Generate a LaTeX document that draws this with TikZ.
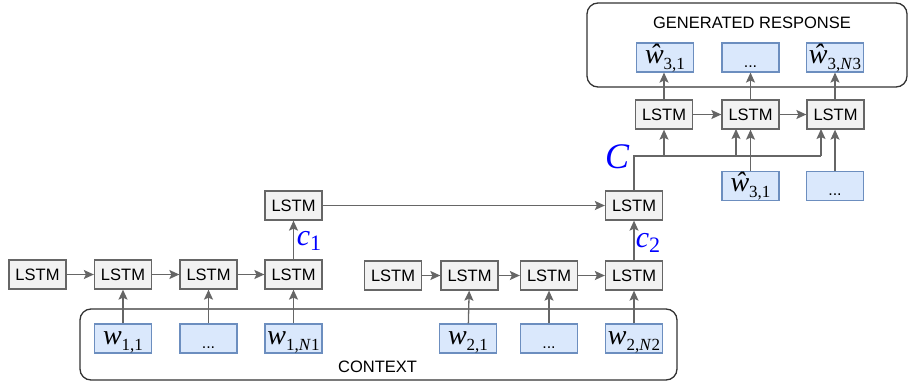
\documentclass[tikz,border=0pt]{standalone}
\usepackage{fontspec}
\setmainfont{Liberation Sans}
\newfontfamily\tms{Liberation Serif}
\usetikzlibrary{arrows.meta}
\definecolor{lgray}{HTML}{F2F2F2}
\definecolor{bgray}{HTML}{666666}
\definecolor{wfill}{HTML}{DAE8FC}
\definecolor{wdraw}{HTML}{6C8EBF}
\definecolor{cblue}{HTML}{0000FF}
\newcommand{\wl}[2]{{\tms\fontsize{28}{30}\selectfont\itshape #1\upshape\raisebox{-6pt}{\fontsize{17}{18}\selectfont #2}}}
\newcommand{\cl}[2]{{\tms\fontsize{30}{32}\selectfont\itshape #1\upshape\raisebox{-5pt}{\fontsize{22}{24}\selectfont #2}}}
\begin{document}
\begin{tikzpicture}[x=1pt,y=-1pt,
  lstm/.style={draw=bgray,fill=lgray,line width=1.3pt,minimum width=57pt,minimum height=29pt,inner sep=0pt,
    font=\fontsize{16.5}{18}\selectfont},
  word/.style={draw=wdraw,fill=wfill,line width=1.1pt,minimum width=57pt,minimum height=29pt,inner sep=0pt,
    text height=16pt,text depth=5pt},
  dots/.style={word,text height=19pt,text depth=0pt,font=\fontsize{16}{18}\selectfont},
  grp/.style={draw=black!80,line width=1.3pt,rounded corners=11pt},
  arr/.style={draw=bgray,line width=1.3pt,-{Stealth[length=10pt,width=9pt,inset=2pt]}},
  ln/.style={draw=bgray,line width=1.3pt},
  lab/.style={text=cblue,inner sep=0pt},
  ttl/.style={font=\fontsize{16.5}{18}\selectfont,inner sep=0pt}
]
\useasboundingbox (0,0) rectangle (909,383);
% groups
\draw[grp] (80,309) rectangle (677,380);
\node[ttl] (ctx) at (377.5,367) {CONTEXT};
\draw[grp] (587,3) rectangle (907,87);
\node[ttl] (gen) at (752,23) {GENERATED RESPONSE};
% context 1
\node[lstm] (a0) at (37.5,274.5) {LSTM};
\node[lstm] (a1) at (123,274.5) {LSTM};
\node[lstm] (a2) at (208.5,274.5) {LSTM};
\node[lstm] (a3) at (293.5,274.5) {LSTM};
\node[lstm] (u1) at (293.5,205.5) {LSTM};
\node[word] (w11) at (123,338.5) {\wl{w}{1,1}};
\node[dots] (d1) at (208.5,338.5) {...};
\node[word] (w1n) at (293.5,338.5) {\wl{w}{1,\textit{N}1}};
% context 2
\node[lstm] (b0) at (393,275.5) {LSTM};
\node[lstm] (b1) at (469.5,275.5) {LSTM};
\node[lstm] (b2) at (549,275.5) {LSTM};
\node[lstm] (b3) at (634,275.5) {LSTM};
\node[lstm] (u2) at (634,205.5) {LSTM};
\node[word] (w21) at (468,338.5) {\wl{w}{2,1}};
\node[dots] (d2) at (549,338.5) {...};
\node[word] (w2n) at (634,338.5) {\wl{w}{2,\textit{N}2}};
% decoder
\node[lstm] (r0) at (664,114.5) {LSTM};
\node[lstm] (r1) at (750.5,114.5) {LSTM};
\node[lstm] (r2) at (835.5,114.5) {LSTM};
\node[word] (o0) at (665,57.5) {\wl{ŵ}{3,1}};
\node[dots] (o1) at (750.5,57.5) {...};
\node[word] (o2) at (835,57.5) {\wl{ŵ}{3,\textit{N}3}};
\node[word] (i1) at (750.5,186) {\wl{ŵ}{3,1}};
\node[dots] (i2) at (835,186) {...};
% arrows context 1
\draw[arr] (a0) -- (a1);
\draw[arr] (a1) -- (a2);
\draw[arr] (a2) -- (a3);
\draw[arr] (w11) -- (a1);
\draw[arr] (d1) -- (a2);
\draw[arr] (w1n) -- (a3);
\draw[arr] (a3) -- (u1);
\node[lab] (c1) at (309,241) {\cl{c}{1}};
% arrows context 2
\draw[arr] (b0) -- (b1);
\draw[arr] (b1) -- (b2);
\draw[arr] (b2) -- (b3);
\draw[arr] (w21) -- (b1);
\draw[arr] (d2) -- (b2);
\draw[arr] (w2n) -- (b3);
\draw[arr] (b3) -- (u2);
\node[lab] (c2) at (648,243) {\cl{c}{2}};
\draw[arr] (u1) -- (u2);
% context vector
\coordinate (cc) at (634,156);
\coordinate (ce) at (821,156);
\draw[ln] (u2.north) -- (cc) -- (ce);
\draw[arr] (664,156) -- (r0.south);
\draw[arr] (736,156) -- (736,129);
\draw[arr] (ce) -- (821,129);
\node[lab,font=\tms\fontsize{36}{38}\selectfont\itshape] (C) at (617,157) {C};
% decoder arrows
\draw[arr] (r0) -- (r0 |- o0.south);
\draw[arr] (r0) -- (r1);
\draw[arr] (r1) -- (r2);
\draw[arr] (r1) -- (o1);
\draw[arr] (r2.north -| o2) -- (o2);
\draw[arr] (i1) -- (r1);
\draw[arr] (i2) -- (i2 |- r2.south);
\end{tikzpicture}
\end{document}
